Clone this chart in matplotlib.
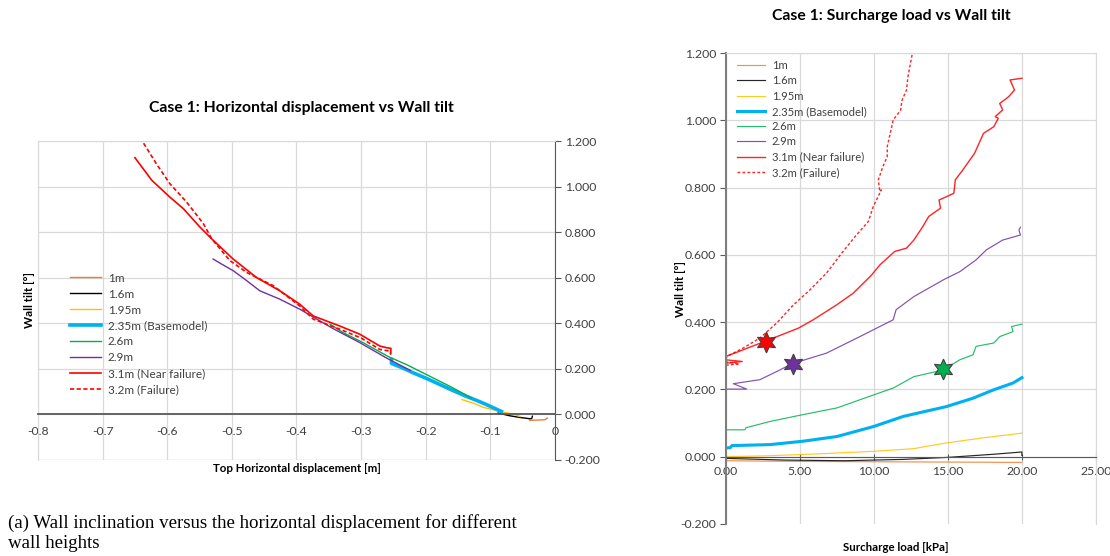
import matplotlib
matplotlib.use("Agg")
import matplotlib.pyplot as plt
from matplotlib.ticker import FormatStrFormatter, FuncFormatter

plt.rcParams['font.family'] = ['Lato', 'DejaVu Sans']

# legend labels
labels = ['1m', '1.6m', '1.95m', '2.35m (Basemodel)', '2.6m', '2.9m',
          '3.1m (Near failure)', '3.2m (Failure)']
colors = ['#ED7D31', '#000000', '#FFC000', '#00B0F0', '#00B050', '#7030A0',
          '#FF0000', '#FF0000']

# ---- left chart: top horizontal displacement [m] vs wall tilt [deg]
h_1m_x = [-0.039, -0.030, -0.020, -0.015, -0.012]
h_1m_y = [-0.026, -0.025, -0.024, -0.023, -0.016]
h_16_x = [-0.088, -0.070, -0.055, -0.039, -0.036, -0.035]
h_16_y = [0.006, -0.006, -0.013, -0.019, -0.018, -0.008]
h_195_x = [-0.144, -0.125, -0.111, -0.095, -0.080, -0.065, -0.054]
h_195_y = [0.065, 0.048, 0.031, 0.020, 0.009, 0.002, -0.009]
h_235_x = [-0.253, -0.253, -0.235, -0.219, -0.198, -0.178, -0.158, -0.137, -0.120, -0.106, -0.083]
h_235_y = [0.241, 0.224, 0.203, 0.182, 0.157, 0.131, 0.105, 0.079, 0.060, 0.043, 0.013]
h_26_x = [-0.348, -0.328, -0.297, -0.258, -0.230, -0.199, -0.163, -0.129]
h_26_y = [0.396, 0.359, 0.315, 0.254, 0.219, 0.175, 0.124, 0.072]
h_29_x = [-0.529, -0.516, -0.498, -0.477, -0.457, -0.426, -0.395, -0.343, -0.302, -0.261, -0.224]
h_29_y = [0.682, 0.660, 0.631, 0.587, 0.543, 0.506, 0.462, 0.376, 0.315, 0.248, 0.193]
h_31_x = [-0.650, -0.624, -0.596, -0.575, -0.550, -0.531, -0.498, -0.462, -0.426,
          -0.395, -0.374, -0.333, -0.302, -0.271, -0.261, -0.254, -0.254]
h_31_y = [1.127, 1.028, 0.954, 0.903, 0.824, 0.770, 0.682, 0.601, 0.543,
          0.484, 0.432, 0.388, 0.352, 0.300, 0.293, 0.290, 0.270]
h_32_x = [-0.642, -0.617, -0.596, -0.570, -0.544, -0.531, -0.503, -0.477, -0.436,
          -0.395, -0.374, -0.333, -0.300, -0.271, -0.256, -0.254]
h_32_y = [1.215, 1.101, 1.013, 0.932, 0.837, 0.770, 0.675, 0.623, 0.565,
          0.476, 0.418, 0.374, 0.335, 0.285, 0.278, 0.262]

# ---- right chart: surcharge load [kPa] vs wall tilt [deg]
s_1m_x = [0.0, 5.0, 10.0, 15.0, 20.0]
s_1m_y = [-0.012, -0.014, -0.015, -0.016, -0.017]
s_16_x = [0.0, 4.0, 8.0, 12.0, 15.0, 18.0, 20.0, 20.0]
s_16_y = [-0.005, -0.010, -0.012, -0.008, -0.002, 0.007, 0.014, 0.004]
s_195_x = [0.0, 3.0, 6.0, 10.0, 12.7, 14.9, 17.2, 20.0]
s_195_y = [0.000, 0.003, 0.008, 0.016, 0.024, 0.041, 0.055, 0.070]
s_235_x = [0.0, 0.3, 0.4, 3.0, 5.2, 7.5, 10.0, 12.0, 14.9, 16.7, 18.1, 19.4, 20.0]
s_235_y = [0.026, 0.027, 0.033, 0.036, 0.046, 0.060, 0.090, 0.120, 0.149, 0.174, 0.199, 0.219, 0.235]
s_26_x = [0.0, 1.28, 1.35, 3.0, 5.2, 7.5, 10.0, 11.3, 12.7, 14.7, 15.8, 16.7, 16.9,
          18.1, 18.5, 19.4, 19.3, 20.0]
s_26_y = [0.080, 0.080, 0.086, 0.105, 0.125, 0.145, 0.184, 0.204, 0.238, 0.258, 0.288,
          0.303, 0.328, 0.338, 0.357, 0.372, 0.387, 0.394]
s_29_x = [0.0, 1.4, 0.5, 2.3, 3.65, 4.44, 6.8, 9.05, 11.3, 11.5, 12.7, 14.7, 15.8,
          16.9, 17.6, 18.7, 19.9, 19.8, 19.9]
s_29_y = [0.201, 0.201, 0.217, 0.229, 0.258, 0.276, 0.308, 0.357, 0.407, 0.437, 0.476,
          0.526, 0.550, 0.585, 0.615, 0.644, 0.659, 0.674, 0.682]
s_31_x = [0.0, 1.1, 0.0, 0.0, 1.17, 2.64, 4.89, 5.9, 7.47, 8.6, 9.84, 10.4, 11.4,
          12.2, 12.7, 13.3, 13.7, 14.5, 14.4, 15.4, 15.5, 16.0, 16.8, 17.2, 17.4,
          18.1, 18.4, 18.2, 18.7, 18.5, 19.1, 19.5, 19.2, 20.0]
s_31_y = [0.278, 0.283, 0.288, 0.298, 0.318, 0.343, 0.382, 0.407, 0.451, 0.486, 0.540,
          0.570, 0.610, 0.620, 0.644, 0.684, 0.714, 0.739, 0.763, 0.783, 0.823, 0.852,
          0.902, 0.941, 0.961, 0.981, 1.006, 1.011, 1.031, 1.050, 1.070, 1.090, 1.120, 1.125]
s_32_x = [0.0, 0.9, 0.0, 0.05, 1.17, 2.3, 3.42, 4.55, 5.68, 6.8, 7.82, 8.72, 9.62, 9.95,
          10.5, 10.4, 10.3, 10.6, 10.9, 10.9, 11.1, 11.3, 11.8, 11.9, 12.2, 12.3, 12.6]
s_32_y = [0.272, 0.276, 0.282, 0.298, 0.323, 0.353, 0.397, 0.451, 0.496, 0.546, 0.605,
          0.654, 0.699, 0.743, 0.793, 0.788, 0.823, 0.862, 0.892, 0.922, 0.961, 1.001,
          1.030, 1.060, 1.090, 1.130, 1.200]

# star markers (onset points)
star_x = [2.7, 4.5, 14.7]
star_y = [0.341, 0.275, 0.260]
star_c = ['#FF0000', '#7030A0', '#00B050']

left_data = [(h_1m_x, h_1m_y), (h_16_x, h_16_y), (h_195_x, h_195_y), (h_235_x, h_235_y),
             (h_26_x, h_26_y), (h_29_x, h_29_y), (h_31_x, h_31_y), (h_32_x, h_32_y)]
right_data = [(s_1m_x, s_1m_y), (s_16_x, s_16_y), (s_195_x, s_195_y), (s_235_x, s_235_y),
              (s_26_x, s_26_y), (s_29_x, s_29_y), (s_31_x, s_31_y), (s_32_x, s_32_y)]
widths = [1.0, 1.0, 1.0, 2.6, 1.0, 1.0, 1.2, 1.2]
styles = ['-'] * 7 + ['--']

grid_c = '#d9d9d9'
axis_c = '#595959'
txt_c = '#404040'

fig = plt.figure(figsize=(11.1, 5.56), dpi=100)

# ---------------- left chart
ax1 = fig.add_axes([0.0342, 0.1727, 0.4658, 0.5737])
for (x, y), c, w, s, lab in zip(left_data, colors, widths, styles, labels):
    ax1.plot(x, y, color=c, lw=w, ls=s, label=lab, dashes=(2.5, 1.5) if s == '--' else (None, None))
ax1.set_xlim(-0.8, 0)
ax1.set_ylim(-0.2, 1.2)
ax1.set_xticks([-0.8, -0.7, -0.6, -0.5, -0.4, -0.3, -0.2, -0.1, 0])
ax1.set_yticks([-0.2, 0, 0.2, 0.4, 0.6, 0.8, 1.0, 1.2])
ax1.xaxis.set_major_formatter(FuncFormatter(lambda v, p: '0' if abs(v) < 1e-9 else f'{v:.1f}'))
ax1.yaxis.set_major_formatter(FormatStrFormatter('%.3f'))
ax1.yaxis.tick_right()
ax1.grid(True, color=grid_c, lw=0.9)
ax1.set_axisbelow(True)
for side in ['top', 'left']:
    ax1.spines[side].set_color(grid_c)
ax1.spines['bottom'].set_position(('data', 0))
ax1.spines['bottom'].set_color(axis_c)
ax1.spines['bottom'].set_linewidth(1.3)
ax1.spines['right'].set_color(axis_c)
ax1.tick_params(axis='x', length=0, pad=8, labelsize=8.8, labelcolor=txt_c)
ax1.tick_params(axis='y', length=4, color=axis_c, pad=3, labelsize=8.8, labelcolor=txt_c)
ax1.axhline(-0.2, color=grid_c, lw=0.9)
ax1.text(0.5, -0.028, 'Top Horizontal displacement [m]', transform=ax1.transAxes,
         ha='center', va='center', fontsize=8.3, fontweight='bold')
ax1.text(-0.017, 0.5, 'Wall tilt [°]', transform=ax1.transAxes, rotation=90,
         ha='center', va='center', fontsize=8.3, fontweight='bold')
ax1.text(0.51, 1.103, 'Case 1: Horizontal displacement vs Wall tilt', transform=ax1.transAxes,
         ha='center', va='center', fontsize=11.3, fontweight='bold')
ax1.legend(loc='center left', bbox_to_anchor=(0.062, 0.395), frameon=False, fontsize=8.5,
           borderpad=0, borderaxespad=0, handlelength=2.6, handletextpad=0.6,
           labelspacing=0.42, labelcolor=txt_c)

# ---------------- right chart
ax2 = fig.add_axes([0.654, 0.0576, 0.3333, 0.847])
for (x, y), c, w, s, lab in zip(right_data, colors, widths, styles, labels):
    ax2.plot(x, y, color=c, lw=w * 0.85, ls=s, label=lab, alpha=0.85 if w < 2 else 1,
             dashes=(2, 1.5) if s == '--' else (None, None))
for xs, ys, cs in zip(star_x, star_y, star_c):
    ax2.plot(xs, ys, marker=(6, 1, 0), ms=15, mfc=cs, mec='#404040', mew=0.8, zorder=5)
ax2.set_xlim(0, 25)
ax2.set_ylim(-0.2, 1.2)
ax2.set_xticks([0, 5, 10, 15, 20, 25])
ax2.set_yticks([-0.2, 0, 0.2, 0.4, 0.6, 0.8, 1.0, 1.2])
ax2.xaxis.set_major_formatter(FormatStrFormatter('%.2f'))
ax2.yaxis.set_major_formatter(FormatStrFormatter('%.3f'))
ax2.grid(True, color=grid_c, lw=0.9)
ax2.set_axisbelow(True)
ax2.yaxis.get_gridlines()[0].set_visible(False)
ax2.spines['bottom'].set_position(('data', 0))
ax2.spines['bottom'].set_color(axis_c)
ax2.spines['left'].set_color('#7f7f7f')
ax2.spines['left'].set_linewidth(1.5)
ax2.spines['top'].set_color(grid_c)
ax2.spines['right'].set_color(grid_c)
ax2.tick_params(axis='x', length=4, direction='inout', color=axis_c, pad=5,
                labelsize=8.8, labelcolor=txt_c)
ax2.tick_params(axis='y', length=4, color=axis_c, pad=3, labelsize=8.8, labelcolor=txt_c)
ax2.text(0.46, -0.051, 'Surcharge load [kPa]', transform=ax2.transAxes,
         ha='center', va='center', fontsize=8.3, fontweight='bold')
ax2.text(-0.124, 0.5, 'Wall tilt [°]', transform=ax2.transAxes, rotation=90,
         ha='center', va='center', fontsize=8.3, fontweight='bold')
ax2.text(0.446, 1.078, 'Case 1: Surcharge load vs Wall tilt', transform=ax2.transAxes,
         ha='center', va='center', fontsize=11.3, fontweight='bold')
ax2.legend(loc='center left', bbox_to_anchor=(0.030, 0.860), frameon=False, fontsize=8.1,
           borderpad=0, borderaxespad=0, handlelength=2.5, handletextpad=0.6,
           labelspacing=0.38, labelcolor=txt_c)

fig.text(0.007, 0.042, '(a) Wall inclination versus the horizontal displacement for different\nwall heights',
         family='Liberation Serif', fontsize=13.6, va='center', ha='left', linespacing=1.22)

fig.savefig('out.png', dpi=100)
